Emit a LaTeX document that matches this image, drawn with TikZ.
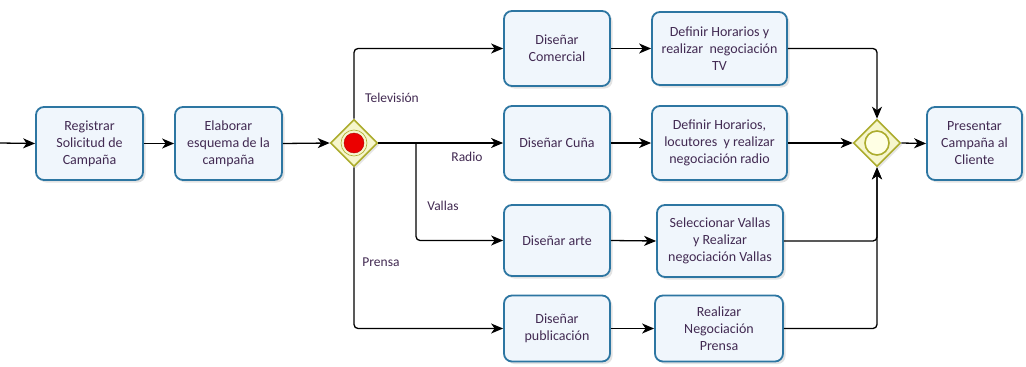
\documentclass[tikz,border=0pt]{standalone}
\usepackage{fontspec}
\setmainfont{Carlito}
\usetikzlibrary{arrows.meta,shapes.geometric,shadows}
\definecolor{boxblue}{RGB}{45,118,162}
\definecolor{boxfill}{RGB}{240,246,252}
\definecolor{gwfill}{RGB}{246,246,205}
\definecolor{gwline}{RGB}{172,172,45}
\definecolor{txt}{RGB}{66,42,82}
\definecolor{redc}{RGB}{235,0,0}
\definecolor{paley}{RGB}{255,255,228}
\begin{document}
\begin{tikzpicture}[x=1pt,y=-1pt,
  task/.style={draw=boxblue, line width=1.8pt, rounded corners=8pt, fill=boxfill,
    minimum width=107pt, minimum height=73pt, align=center, inner sep=2pt,
    font=\fontsize{14}{17}\selectfont, text=txt,
    drop shadow={opacity=0.22, shadow xshift=2.5pt, shadow yshift=-2.5pt}},
  gw/.style={diamond, draw=gwline, fill=gwfill, line width=1.6pt,
    minimum width=47pt, minimum height=47pt, inner sep=0pt, aspect=1,
    drop shadow={opacity=0.2, shadow xshift=2pt, shadow yshift=-2pt}},
  flow/.style={draw=black, line width=1.3pt, rounded corners=4pt,
    -{Stealth[length=12pt,width=10pt,inset=3.5pt]}},
  lbl/.style={font=\fontsize{13.5}{15}\selectfont, text=txt, inner sep=0pt}]
\useasboundingbox[fill=white] (0,0) rectangle (1026,367);

\node[task] (reg) at (89.5,143.5) {Registrar\\Solicitud de\\Campaña};
\node[task] (ela) at (228.5,143.5) {Elaborar\\esquema de la\\campaña};
\node[gw] (g1) at (354,143) {};
\node[task, minimum width=106pt, minimum height=75pt] (dc) at (557,48.5) {Diseñar\\Comercial};
\node[task, minimum width=135pt, minimum height=73pt] (dh) at (719.5,48.5) {Definir Horarios y\\realizar\ \ negociación\\TV};
\node[task, minimum width=106pt, minimum height=74pt] (dcu) at (557,143) {Diseñar Cuña};
\node[task, minimum width=135pt, minimum height=74pt] (dhl) at (719.5,143) {Definir Horarios,\\locutores\ \ y realizar\\negociación radio};
\node[task, minimum width=106pt, minimum height=71pt] (da) at (557,240.5) {Diseñar arte};
\node[task, minimum width=126pt, minimum height=72pt] (sv) at (720,241) {Seleccionar Vallas\\y Realizar\\negociación Vallas};
\node[task, minimum width=106pt, minimum height=66pt] (dp) at (557,328.5) {Diseñar\\publicación};
\node[task, minimum width=128pt, minimum height=66pt] (rn) at (719,328.5) {Realizar\\Negociación\\Prensa};
\node[gw] (g2) at (877,143) {};
\node[task, minimum width=95pt, minimum height=73pt] (pc) at (974.5,143.5) {Presentar\\Campaña al\\Cliente};

% gateway markers
\node[circle, draw=gwline, line width=0.6pt, minimum size=26pt, inner sep=0pt] (g1ring) at (g1.center) {};
\node[circle, fill=redc, draw=red!70!black, line width=0.4pt, minimum size=20pt, inner sep=0pt] (g1dot) at (g1.center) {};
\node[circle, fill=paley, draw=gwline, line width=1.6pt, minimum size=24pt, inner sep=0pt] (g2dot) at (g2.center) {};

\coordinate (start) at (0,143);
\coordinate (vb) at (416,143);

\draw[flow] (start) -- (reg.west);
\draw[flow] (reg.east) -- (ela.west);
\draw[flow] (ela.east) -- (g1.west);
\draw[flow] (g1.north) |- (dc.west);
\draw[flow] (g1.east) -- (dcu.west);
\draw[flow] (vb) |- (da.west);
\draw[flow] (g1.south) |- (dp.west);
\draw[flow] (dc.east) -- (dh.west);
\draw[flow] (dcu.east) -- (dhl.west);
\draw[flow] (da.east) -- (sv.west);
\draw[flow] (dp.east) -- (rn.west);
\draw[flow] (dh.east) -| (g2.north);
\draw[flow] (dhl.east) -- (g2.west);
\draw[flow] (sv.east) -| (g2.south);
\draw[flow] (rn.east) -| (g2.south);
\draw[flow] (g2.east) -- (pc.west);

\node[lbl] (ltv) at (392,98) {Televisión};
\node[lbl] (lra) at (467,157) {Radio};
\node[lbl] (lva) at (443,206) {Vallas};
\node[lbl] (lpr) at (381,262) {Prensa};
\end{tikzpicture}
\end{document}
